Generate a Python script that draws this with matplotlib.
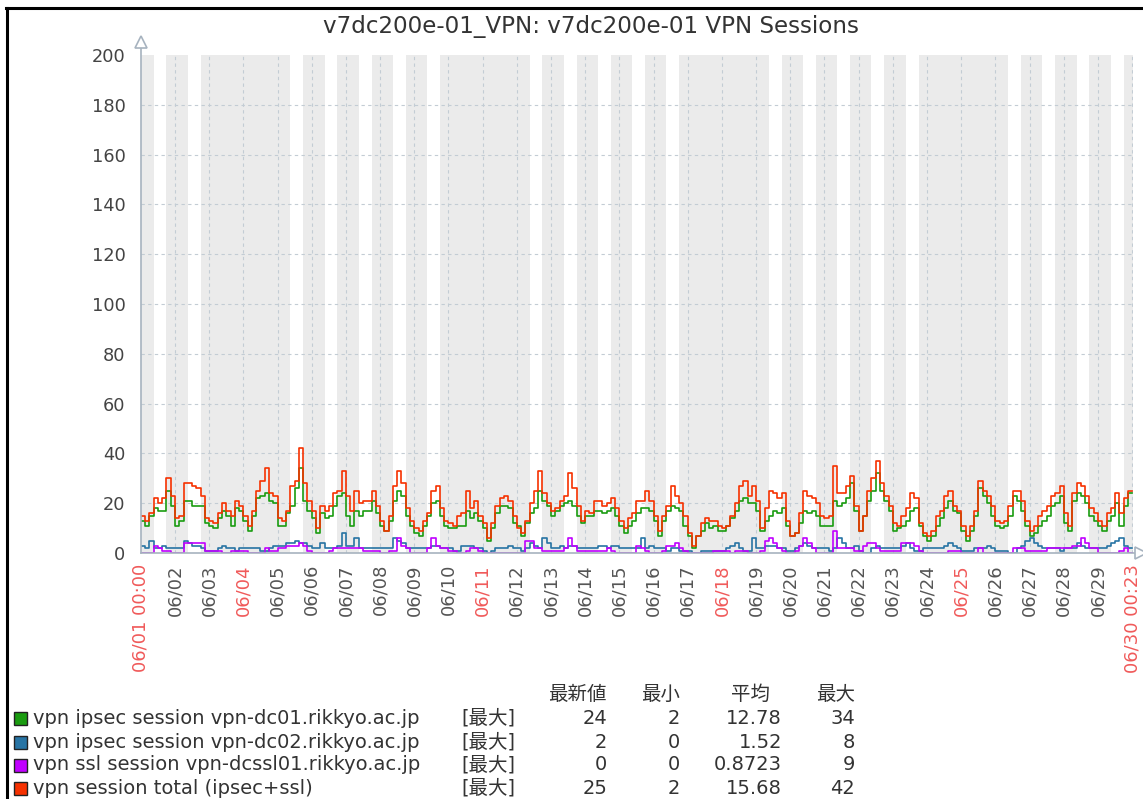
import datetime as dt

import matplotlib
matplotlib.use('Agg')
import matplotlib.pyplot as plt
from matplotlib.lines import Line2D
from matplotlib.patches import Rectangle
import numpy as np

plt.rcParams['font.family'] = ['DejaVu Sans', 'Noto Sans CJK JP']

title = 'v7dc200e-01_VPN: v7dc200e-01 VPN Sessions'
start = dt.date(2023, 6, 1)
n_days = 29
end_day = 29 + 23 / 1440  # 06/30 00:23
slot = 3 / 24  # one value every 3 hours

# 3-hourly values, one row per day (06/01 ... 06/29)
dc01 = [
    13, 11, 15, 18, 17, 17, 25, 19,
    11, 13, 21, 21, 19, 19, 19, 12,
    11, 10, 14, 17, 15, 11, 18, 17,
    13, 9, 15, 22, 23, 24, 21, 20,
    11, 11, 16, 19, 26, 34, 21, 17,
    14, 8, 16, 14, 15, 19, 23, 24,
    15, 11, 17, 15, 17, 17, 21, 16,
    11, 9, 13, 21, 25, 23, 15, 11,
    8, 7, 11, 15, 20, 21, 15, 11,
    10, 10, 11, 11, 17, 14, 16, 13,
    10, 5, 10, 16, 19, 19, 18, 12,
    11, 7, 12, 16, 18, 25, 21, 19,
    15, 17, 19, 20, 21, 19, 15, 12,
    15, 15, 17, 17, 16, 17, 18, 15,
    11, 8, 11, 13, 16, 18, 18, 17,
    13, 7, 13, 17, 19, 18, 17, 11,
    7, 2, 7, 9, 12, 10, 11, 9,
    9, 11, 14, 17, 21, 22, 20, 20,
    17, 9, 13, 15, 17, 16, 18, 11,
    7, 8, 12, 17, 16, 17, 15, 11,
    11, 11, 21, 19, 20, 22, 28, 17,
    9, 15, 21, 25, 32, 25, 21, 17,
    9, 10, 11, 13, 17, 18, 11, 7,
    5, 7, 11, 14, 18, 21, 17, 16,
    9, 5, 9, 15, 26, 23, 20, 15,
    11, 10, 11, 15, 23, 21, 17, 11,
    7, 8, 11, 13, 15, 19, 20, 23,
    12, 9, 21, 24, 23, 20, 15, 13,
    11, 9, 13, 15, 20, 11, 19, 24,
]
dc02 = [
    3, 2, 5, 2, 2, 3, 2, 2,
    2, 2, 5, 4, 3, 3, 2, 1,
    1, 1, 2, 3, 2, 2, 1, 2,
    2, 2, 2, 2, 1, 1, 2, 3,
    3, 3, 4, 4, 5, 4, 4, 3,
    2, 2, 4, 2, 2, 2, 3, 8,
    3, 3, 6, 2, 2, 2, 2, 2,
    2, 2, 2, 6, 5, 4, 2, 2,
    2, 2, 2, 2, 3, 3, 2, 2,
    2, 1, 1, 3, 3, 3, 2, 2,
    1, 0, 1, 2, 2, 2, 3, 2,
    2, 1, 2, 4, 3, 2, 6, 4,
    2, 2, 3, 2, 3, 3, 2, 2,
    2, 2, 2, 3, 3, 2, 3, 3,
    2, 2, 2, 2, 2, 6, 2, 3,
    2, 2, 2, 1, 2, 2, 1, 1,
    1, 0, 0, 1, 1, 1, 1, 1,
    1, 2, 3, 4, 2, 1, 1, 6,
    2, 2, 3, 3, 3, 2, 2, 1,
    1, 2, 3, 4, 3, 2, 2, 2,
    2, 1, 2, 6, 4, 2, 2, 3,
    1, 0, 0, 2, 3, 2, 2, 2,
    2, 2, 3, 4, 2, 1, 1, 2,
    2, 2, 2, 2, 3, 4, 3, 2,
    1, 1, 1, 2, 2, 2, 3, 2,
    1, 1, 1, 0, 0, 2, 3, 5,
    6, 4, 3, 2, 2, 2, 2, 1,
    2, 2, 2, 4, 3, 2, 2, 2,
    2, 2, 3, 4, 5, 6, 3, 2,
]
ssl01 = [
    0, 0, 0, 3, 2, 1, 1, 0,
    0, 0, 4, 4, 4, 4, 4, 1,
    1, 1, 1, 0, 0, 1, 1, 1,
    1, 0, 0, 0, 0, 2, 1, 1,
    2, 2, 3, 3, 3, 4, 3, 1,
    0, 0, 0, 0, 1, 2, 2, 2,
    2, 2, 2, 2, 1, 1, 1, 1,
    0, 0, 1, 1, 6, 3, 2, 0,
    0, 0, 0, 2, 6, 3, 2, 2,
    1, 1, 0, 0, 1, 2, 2, 1,
    0, 0, 0, 0, 0, 0, 0, 0,
    0, 0, 5, 5, 2, 2, 1, 1,
    1, 1, 1, 2, 6, 3, 1, 1,
    1, 1, 1, 1, 1, 2, 1, 0,
    0, 0, 0, 0, 3, 2, 1, 0,
    0, 0, 1, 3, 3, 4, 2, 1,
    0, 0, 0, 0, 0, 0, 1, 1,
    1, 1, 0, 1, 1, 1, 0, 0,
    0, 1, 5, 6, 4, 2, 1, 0,
    0, 1, 3, 6, 4, 2, 0, 0,
    0, 0, 9, 2, 2, 2, 2, 1,
    1, 3, 4, 4, 2, 1, 1, 1,
    1, 1, 4, 4, 4, 3, 1, 0,
    0, 0, 0, 0, 0, 1, 1, 1,
    0, 0, 0, 0, 2, 0, 0, 0,
    0, 0, 0, 0, 2, 2, 2, 1,
    1, 1, 1, 1, 2, 2, 2, 2,
    2, 2, 3, 3, 6, 4, 2, 2,
    0, 0, 0, 0, 0, 1, 2, 0,
]
total = [
    15, 13, 16, 22, 20, 22, 30, 23,
    14, 15, 28, 28, 27, 26, 23, 14,
    13, 12, 16, 20, 17, 15, 21, 19,
    15, 11, 17, 25, 29, 34, 24, 23,
    14, 13, 17, 27, 29, 42, 28, 21,
    17, 10, 19, 17, 19, 24, 25, 33,
    23, 17, 25, 20, 21, 21, 25, 19,
    13, 9, 15, 27, 33, 28, 18, 13,
    10, 9, 13, 16, 25, 27, 18, 13,
    12, 11, 15, 16, 25, 18, 21, 15,
    12, 6, 12, 19, 22, 23, 21, 15,
    10, 8, 13, 20, 25, 33, 24, 20,
    17, 18, 21, 23, 32, 26, 19, 13,
    17, 16, 21, 21, 19, 20, 22, 18,
    13, 10, 14, 16, 21, 21, 25, 21,
    15, 9, 15, 19, 27, 23, 20, 15,
    8, 3, 7, 12, 14, 13, 13, 11,
    10, 11, 15, 20, 27, 29, 23, 27,
    21, 10, 18, 25, 24, 22, 24, 13,
    7, 8, 16, 25, 23, 22, 20, 15,
    14, 15, 35, 24, 24, 27, 31, 19,
    9, 15, 25, 30, 37, 28, 23, 19,
    12, 11, 15, 18, 24, 22, 12, 8,
    7, 9, 15, 17, 23, 25, 19, 17,
    11, 7, 11, 17, 29, 25, 23, 19,
    13, 12, 13, 19, 25, 25, 21, 13,
    9, 11, 15, 17, 19, 23, 24, 27,
    16, 11, 24, 28, 27, 23, 18, 16,
    13, 11, 16, 18, 24, 16, 22, 25,
]

names = ['vpn ipsec session vpn-dc01.rikkyo.ac.jp',
         'vpn ipsec session vpn-dc02.rikkyo.ac.jp',
         'vpn ssl session vpn-dcssl01.rikkyo.ac.jp',
         'vpn session total (ipsec+ssl)']
colors = ['#1a9c10', '#2774a4', '#c000ff', '#f63100']
headers = ['最新値', '最小', '平均', '最大']
last_vals = ['24', '2', '0', '25']
min_vals = ['2', '0', '0', '2']
avg_vals = ['12.78', '1.52', '0.8723', '15.68']
max_vals = ['34', '8', '9', '42']

W, H = 1143, 799
fig = plt.figure(figsize=(W / 100, H / 100), dpi=100)


def fx(px):
    return px / W


def fy(py):
    return 1 - py / H


x_left, x_right = 140.8, 1132.7
y_top, y_bot = 55, 553
ax = fig.add_axes([fx(x_left), fy(y_bot), (x_right - x_left) / W, (y_bot - y_top) / H])
ax.set_xlim(0, end_day)
ax.set_ylim(0, 200)

# non-working time grey, working time (Mon-Fri 09:00-18:00) white
ax.set_facecolor('#ebebeb')
for d in range(n_days + 1):
    if (start + dt.timedelta(days=d)).weekday() < 5:
        ax.axvspan(d + 9 / 24, d + 18 / 24, color='white', lw=0, zorder=0.5)

grid_c = '#c3ccd4'
for v in range(20, 200, 20):
    ax.axhline(v, color=grid_c, lw=0.8, ls=(0, (3, 3)), zorder=1)
for d in range(1, n_days + 1):
    ax.axvline(d, color=grid_c, lw=0.8, ls=(0, (3, 3)), zorder=1)

t = np.arange(len(total)) * slot
t = np.append(t, n_days)
for vals, c in zip([dc01, dc02, ssl01, total], colors):
    ax.step(t, np.append(vals, vals[-1]), where='post', color=c, lw=1.2, zorder=3)

axis_c = '#a7b3bf'
for s in ['top', 'right', 'left', 'bottom']:
    ax.spines[s].set_visible(False)
ax.plot([0, 0], [0, 1.022], transform=ax.transAxes, color=axis_c, lw=1.2, clip_on=False, zorder=4)
ax.plot([0, 1.006], [0, 0], transform=ax.transAxes, color=axis_c, lw=1.2, clip_on=False, zorder=4)
ax.plot([0], [1.026], marker='^', ms=8, mfc='white', mec=axis_c, mew=1.2,
        transform=ax.transAxes, clip_on=False, zorder=5)
ax.plot([1.008], [0], marker='>', ms=8, mfc='white', mec=axis_c, mew=1.2,
        transform=ax.transAxes, clip_on=False, zorder=5)

ax.set_yticks(range(0, 201, 20))
ax.tick_params(axis='y', length=0, pad=11, labelsize=12.8, labelcolor='#444444')

ticks = list(range(n_days)) + [end_day]
labels = []
label_colors = []
for d in range(n_days + 1):
    day = start + dt.timedelta(days=d)
    lab = day.strftime('%m/%d')
    if d == 0:
        lab += ' 00:00'
    if d == n_days:
        lab += ' 00:23'
    labels.append(lab)
    red = d == 0 or d == n_days or day.weekday() == 6
    label_colors.append('#f05a5a' if red else '#555555')
ax.set_xticks(ticks)
ax.set_xticklabels(labels, rotation=90, fontsize=13)
for lab, c in zip(ax.get_xticklabels(), label_colors):
    lab.set_color(c)
ax.tick_params(axis='x', length=0, pad=8)

fig.text(fx(591), fy(27), title, ha='center', va='center', fontsize=16.6, color='#333333')

# legend table
text_c = '#333333'
fs = 14
col_right = [607, 680, 782, 855]
head_right = [607, 680, 770, 855]
for h, xr in zip(headers, head_right):
    fig.text(fx(xr), fy(694), h, ha='right', va='center', fontsize=fs, color=text_c)
rows_y = [718, 742, 765, 788]
for i, y in enumerate(rows_y):
    fig.add_artist(Rectangle((fx(14), fy(y + 6.5)), 13 / W, 13 / H, facecolor=colors[i],
                             edgecolor='#222222', lw=1.0, transform=fig.transFigure))
    fig.text(fx(33), fy(y), names[i], ha='left', va='center', fontsize=fs, color=text_c)
    fig.text(fx(461), fy(y), '[最大]', ha='left', va='center', fontsize=fs, color=text_c)
    for val, xr in zip([last_vals[i], min_vals[i], avg_vals[i], max_vals[i]], col_right):
        fig.text(fx(xr), fy(y), val, ha='right', va='center', fontsize=fs, color=text_c)

# outer frame (left and top)
fig.add_artist(Line2D([fx(7), fx(7)], [fy(8), 0], color='black', lw=2.2))
fig.add_artist(Line2D([fx(6), 1], [fy(8), fy(8)], color='black', lw=2.2))

fig.savefig('out.png', dpi=100)
